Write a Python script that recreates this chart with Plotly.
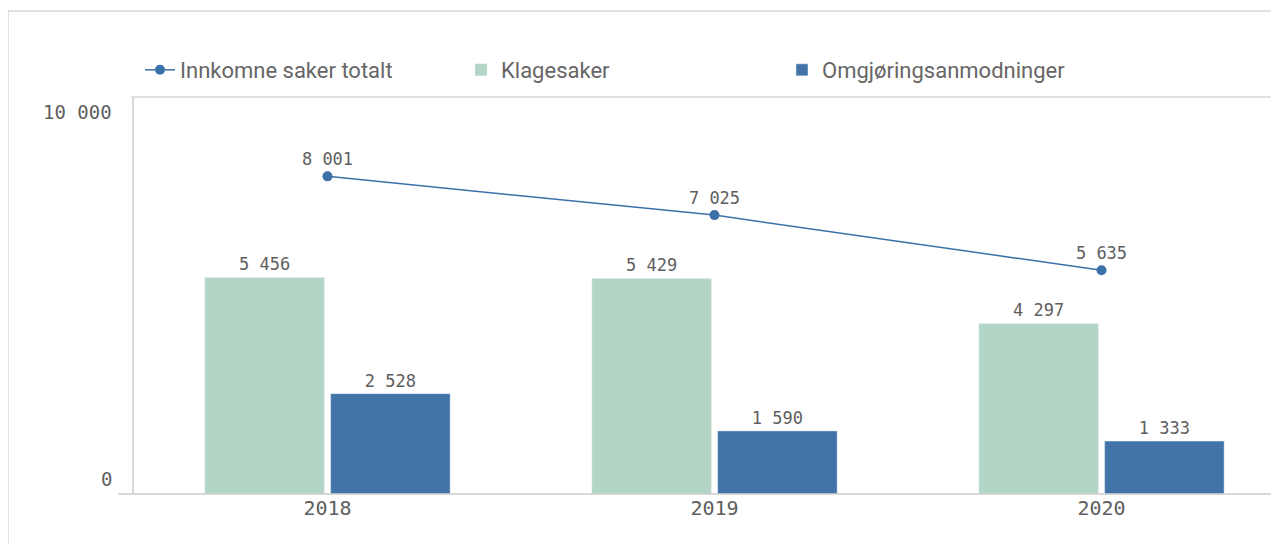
import plotly.graph_objects as go

# data
years = ["2018", "2019", "2020"]
totalt = [8001, 7025, 5635]
klagesaker = [5456, 5429, 4297]
omgjoring = [2528, 1590, 1333]
y_ticks = [0, 10000]
y_tick_labels = ["0", "10\u2009000"]

# the page adds an 8px body margin, so the figure is 8px smaller
W, H = 1271, 536
L, R, T, B = 126, 3, 89, 50
pw, ph = W - L - R, H - T - B

grey = "#5e5e5e"
mono = "DejaVu Sans Mono"
sans = "Roboto, Arial"
green = "#b3d5c5"
blue = "#4274a8"
line_col = "#3c70a8"
frame_col = "#d9d9d9"

fig = go.Figure()

fig.add_trace(go.Scatter(
    x=years, y=totalt, name="Innkomne saker totalt",
    mode="lines+markers+text",
    line=dict(color=line_col, width=1.5),
    marker=dict(size=10, color=line_col),
    texttemplate="%{y:,}", textposition="top center",
    textfont=dict(family=mono, size=17, color=grey),
    cliponaxis=False,
))
fig.add_trace(go.Bar(
    x=years, y=klagesaker, name="Klagesaker", marker_color=green,
    texttemplate="%{y:,}", textposition="outside",
    textfont=dict(family=mono, size=17, color=grey),
    cliponaxis=False,
))
fig.add_trace(go.Bar(
    x=years, y=omgjoring, name="Omgjøringsanmodninger", marker_color=blue,
    texttemplate="%{y:,}", textposition="outside",
    textfont=dict(family=mono, size=17, color=grey),
    cliponaxis=False,
))

# y tick labels sit inside the range, like the original
for v, lab in zip(y_ticks, y_tick_labels):
    top = v == max(y_ticks)
    fig.add_annotation(
        x=0, xref="paper", y=v, yref="y", text=lab, showarrow=False,
        xanchor="right", xshift=-20,
        yanchor="top" if top else "bottom",
        yshift=-2 if top else 2,
        font=dict(family=mono, size=19, color=grey),
    )


def px_x(x):
    return (x - L) / pw


def px_y(y):
    return (H - B - y) / ph


# outer frame, top line and baseline
fig.add_shape(type="rect", xref="paper", yref="paper",
              x0=px_x(0), x1=1, y0=px_y(560), y1=px_y(3),
              line=dict(color=frame_col, width=1.5), layer="below")
fig.add_shape(type="line", xref="paper", yref="paper",
              x0=px_x(L - 3), x1=1, y0=1, y1=1,
              line=dict(color=frame_col, width=1.5))
fig.add_shape(type="line", xref="paper", yref="paper",
              x0=px_x(110), x1=1, y0=0, y1=0,
              line=dict(color="#cccccc", width=1.5))

fig.update_layout(
    width=W, height=H,
    margin=dict(l=L, r=R, t=T, b=B),
    paper_bgcolor="white", plot_bgcolor="white",
    separators=",\u2009",
    barmode="group", bargap=0.35, bargroupgap=0.05,
    showlegend=True,
    legend=dict(
        orientation="h", x=px_x(132), xanchor="left",
        y=px_y(62), yanchor="middle",
        font=dict(family=sans, size=22, color="#666666"),
        entrywidth=276, entrywidthmode="pixels",
        traceorder="normal",
        itemclick=False,
    ),
    xaxis=dict(
        range=[-0.5, -0.5 + pw / 387],
        showgrid=False, showline=False, zeroline=False, ticks="",
        tickfont=dict(family=mono, size=20, color=grey),
    ),
    yaxis=dict(
        range=[0, 10000], tickvals=y_ticks, showticklabels=False,
        showgrid=False, zeroline=False,
        showline=True, linecolor=frame_col, linewidth=1.5,
    ),
)

fig.write_html("out.html")
